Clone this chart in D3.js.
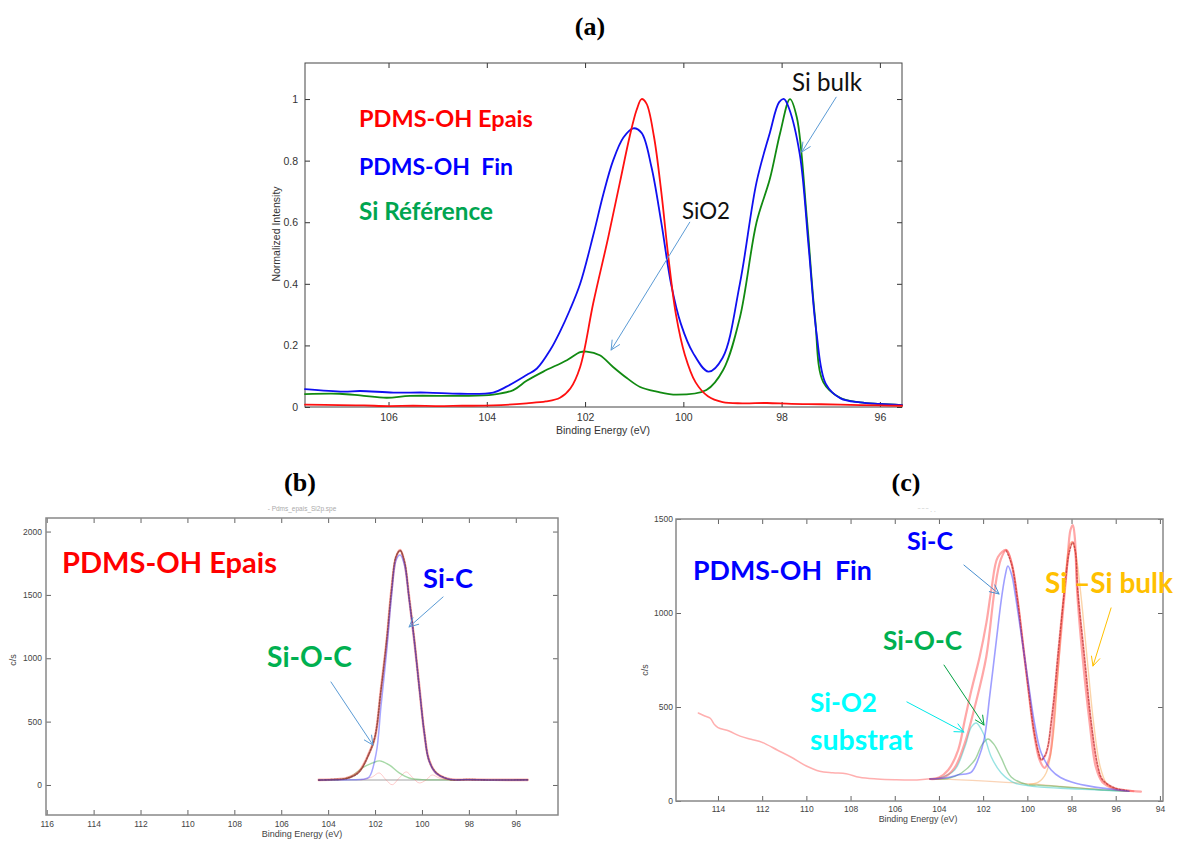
<!DOCTYPE html>
<html><head><meta charset="utf-8">
<script src="https://cdn.jsdelivr.net/npm/d3@7"></script>
<style>body{margin:0;background:#fff}svg{display:block}</style>
</head><body><svg id="chart" width="1180" height="842"></svg>
<script>
// ---------------- DATA (binding energy eV, value) ----------------
// Panel (a): normalized Si 2p spectra
const aEpais = [[107.7,0.008],[107,0.006],[106.5,0.005],[106,0.003],[105.5,0.004],[105,0.003],[104.5,0.004],[103.87,0.005],[103.19,0.012],[102.8,0.018],[102.51,0.03],[102.3,0.06],[102.1,0.13],[101.83,0.34],[101.53,0.55],[101.29,0.73],[101.09,0.88],[100.95,0.965],[100.85,1.0],[100.75,0.985],[100.6,0.88],[100.45,0.7],[100.3,0.48],[100.15,0.3],[99.97,0.17],[99.75,0.08],[99.5,0.035],[99.2,0.016],[98.8,0.012],[98.3,0.013],[97.8,0.01],[97.2,0.009],[96.6,0.007],[96.0,0.005],[95.55,0.004]];
const aFin = [[107.7,0.058],[106.92,0.05],[106.58,0.052],[105.9,0.047],[105.22,0.047],[104.54,0.043],[103.87,0.047],[103.6,0.066],[103.19,0.104],[102.98,0.125],[102.71,0.185],[102.51,0.245],[102.31,0.315],[102.1,0.40],[101.83,0.56],[101.63,0.69],[101.43,0.80],[101.22,0.875],[101.02,0.905],[100.85,0.89],[100.65,0.78],[100.45,0.6],[100.25,0.4],[100.05,0.27],[99.8,0.175],[99.49,0.115],[99.2,0.16],[98.85,0.40],[98.51,0.73],[98.24,0.89],[98.05,0.99],[97.95,1.0],[97.85,0.97],[97.63,0.82],[97.45,0.52],[97.29,0.24],[97.1,0.075],[96.8,0.028],[96.4,0.015],[96.0,0.01],[95.55,0.006]];
const aRef = [[107.7,0.042],[107.0,0.043],[106.58,0.038],[106.04,0.03],[105.56,0.036],[104.54,0.036],[103.87,0.04],[103.46,0.055],[103.19,0.085],[102.85,0.115],[102.37,0.152],[102.1,0.178],[101.97,0.18],[101.7,0.168],[101.43,0.13],[101.15,0.094],[100.88,0.065],[100.54,0.05],[100.14,0.04],[99.53,0.055],[99.19,0.12],[98.85,0.29],[98.51,0.60],[98.24,0.74],[98.03,0.89],[97.83,1.0],[97.69,0.94],[97.49,0.62],[97.32,0.29],[97.15,0.08],[96.81,0.03],[96.4,0.015],[96.0,0.01],[95.55,0.006]];
const aXTicks = [106,104,102,100,98,96];
const aYTicks = [0,0.2,0.4,0.6,0.8,1];

// Panel (b): PDMS-OH Epais fit (c/s)
const bEnvelope = [[104.4,40],[103.6,45],[103.2,55],[102.7,103],[102.25,253],[102.0,379],[101.75,750],[101.5,1144],[101.3,1539],[101.1,1800],[100.93,1855],[100.75,1760],[100.55,1484],[100.33,1144],[100.1,750],[99.9,410],[99.7,197],[99.4,95],[98.85,47],[98.0,42],[97.0,41],[95.5,40]];
const bData = [[104.4,38],[103.8,43],[103.2,52],[102.7,100],[102.25,250],[102.0,385],[101.75,745],[101.5,1150],[101.3,1535],[101.1,1805],[100.93,1850],[100.75,1765],[100.55,1480],[100.33,1150],[100.1,745],[99.9,415],[99.7,195],[99.4,98],[98.85,45],[98.0,43],[97.0,39],[95.5,41]];
const bSiC = [[104.4,40],[103.0,41],[102.5,45],[102.25,63],[101.95,253],[101.75,616],[101.5,1065],[101.3,1484],[101.1,1776],[100.93,1815],[100.75,1740],[100.55,1470],[100.33,1135],[100.1,745],[99.9,405],[99.7,193],[99.4,92],[98.85,46],[98.0,41],[95.5,40]];
const bSiOC = [[104.4,40],[103.5,42],[103.0,70],[102.55,134],[102.1,174],[101.8,190],[101.4,158],[100.97,95],[100.55,55],[100.0,42],[99.0,40],[95.5,40]];
const bResidual = [[102.6,40],[102.12,63],[101.83,95],[101.53,40],[101.27,2],[100.97,55],[100.67,103],[100.42,63],[100.12,16],[99.82,40],[99.57,79],[99.27,55],[98.9,40]];
const bBaseline = [[104.4,40],[95.5,40]];
const bXTicks = [116,114,112,110,108,106,104,102,100,98,96];
const bYTicks = [0,500,1000,1500,2000];

// Panel (c): PDMS-OH Fin fit (c/s)
const cWide = [[114.89,468],[114.6,452],[114.35,440],[114.15,405],[114.0,390],[113.5,372],[113.0,345],[112.5,328],[112.0,312],[111.3,270],[110.7,234],[110.0,186],[109.4,158],[108.8,150],[108.2,145],[107.6,126],[106.8,117],[106.0,113],[105.0,112],[104.4,118]];
const cEnvA = [[104.4,117],[104.0,125],[103.58,165],[103.13,271],[102.83,431],[102.53,590],[102.16,766],[101.85,950],[101.63,1122],[101.33,1298],[100.95,1335],[100.7,1260],[100.45,1080],[100.2,840],[99.95,600],[99.7,380],[99.5,260],[99.37,218],[99.2,240],[99.07,287],[98.92,415],[98.78,560],[98.62,766],[98.32,1122],[98.1,1330],[97.94,1378],[97.82,1320],[97.72,1122],[97.42,766],[97.11,415],[96.81,181],[96.6,112],[96.06,69],[95.5,56],[94.86,50]];
const cEnvB = [[104.4,117],[103.8,125],[103.3,175],[102.83,308],[102.38,500],[101.86,766],[101.48,1122],[101.2,1285],[100.95,1335],[100.7,1255],[100.45,1070],[100.2,830],[99.95,590],[99.7,360],[99.45,220],[99.22,176],[99.0,230],[98.84,378],[98.7,600],[98.47,900],[98.2,1250],[98.05,1440],[97.94,1468],[97.85,1400],[97.75,1122],[97.5,766],[97.18,415],[96.9,181],[96.6,100],[96.1,66],[95.5,55],[95.2,52]];
const cData = [[100.95,1330],[100.7,1255],[100.45,1075],[100.2,835],[99.95,595],[99.7,372],[99.5,262],[99.37,220],[99.2,242],[99.07,290],[98.92,418],[98.78,562],[98.62,770],[98.32,1118],[98.1,1325],[97.94,1375],[97.82,1322],[97.72,1125],[97.42,770],[97.11,418],[96.81,185],[96.6,114],[96.06,70],[95.5,56]];
const cSiC = [[104.4,117],[103.6,125],[103.1,140],[102.55,152],[102.2,230],[101.95,330],[101.7,560],[101.4,856],[101.18,1069],[101.0,1200],[100.88,1250],[100.7,1200],[100.55,1100],[100.28,890],[99.97,640],[99.67,410],[99.37,255],[98.92,165],[98.5,125],[98.0,101],[97.0,75],[96.0,60],[95.4,52]];
const cSiO2 = [[104.4,117],[104.0,122],[103.29,165],[102.83,287],[102.53,394],[102.31,415],[102.0,362],[101.63,234],[101.18,149],[100.58,96],[100.0,82],[99.52,75],[98.5,68],[97.5,62],[96.5,57],[95.4,52]];
const cSiOC = [[104.4,117],[103.6,120],[102.98,149],[102.38,218],[102.05,300],[101.78,330],[101.5,300],[101.18,229],[100.73,128],[99.97,86],[99.5,84],[98.5,76],[97.5,67],[96.5,58],[95.4,52]];
const cSiBulk = [[99.9,88],[99.5,100],[99.15,149],[98.85,325],[98.6,700],[98.35,1100],[98.1,1360],[98.0,1378],[97.85,1340],[97.6,1122],[97.3,766],[97.0,415],[96.7,181],[96.4,90],[96.0,62],[95.4,52]];
const cBackground = [[104.4,117],[103.5,115],[102.5,110],[101.5,103],[100.5,96],[99.5,88],[98.5,78],[97.5,68],[96.5,59],[95.4,52]];
const cXTicks = [114,112,110,108,106,104,102,100,98,96,94];
const cYTicks = [0,500,1000,1500];

// ---------------- CHART ----------------
const svg = d3.select("#chart");
svg.append("rect").attr("width",1180).attr("height",842).attr("fill","#fff");

const xA = d3.scaleLinear([107.7,95.55],[305,902]);
const yA = d3.scaleLinear([0,1.117],[407,63]);
const xB = d3.scaleLinear([116.03,94.2],[46,558]);
const yB = d3.scaleLinear([-237,2107],[815,518]);
const xC = d3.scaleLinear([115.9,93.86],[676,1163]);
const yC = d3.scaleLinear([0,1500],[801,519]);

function frame(x, y, xTicks, yTicks, o) {
  const g = svg.append("g");
  const [x0,x1] = x.range(), [yb,yt] = y.range();
  const style = sel => {
    sel.select(".domain").remove();
    sel.selectAll(".tick line").attr("stroke", o.tickColor).attr("stroke-width", 1);
    sel.selectAll(".tick text").attr("fill", o.textColor).attr("font-family","Liberation Sans, Arial, sans-serif").attr("font-size", o.fs);
  };
  g.append("g").attr("transform",`translate(0,${yb})`)
    .call(d3.axisBottom(x).tickValues(xTicks).tickSizeInner(-o.tick).tickSizeOuter(0).tickPadding(o.padX).tickFormat(d3.format("d"))).call(style);
  g.append("g").attr("transform",`translate(0,${yt})`)
    .call(d3.axisTop(x).tickValues(xTicks).tickSizeInner(-o.tick).tickSizeOuter(0).tickFormat("")).call(style);
  g.append("g").attr("transform",`translate(${x0},0)`)
    .call(d3.axisLeft(y).tickValues(yTicks).tickSizeInner(-o.tick).tickSizeOuter(0).tickPadding(o.padY).tickFormat(o.yFmt)).call(style);
  g.append("g").attr("transform",`translate(${x1},0)`)
    .call(d3.axisRight(y).tickValues(yTicks).tickSizeInner(-o.tick).tickSizeOuter(0).tickFormat("")).call(style);
  g.append("rect").attr("x",x0).attr("y",yt).attr("width",x1-x0).attr("height",yb-yt)
    .attr("fill","none").attr("stroke",o.frame).attr("stroke-width",o.frameW);
  g.append("text").attr("x",o.xt[0]).attr("y",o.xt[1]).attr("text-anchor","middle")
    .attr("font-family","Liberation Sans, Arial, sans-serif").attr("font-size",o.tfs).attr("fill",o.textColor).text("Binding Energy (eV)");
  g.append("text").attr("transform",`translate(${o.yt[0]},${o.yt[1]}) rotate(-90)`).attr("text-anchor","middle")
    .attr("font-family","Liberation Sans, Arial, sans-serif").attr("font-size",o.tfs).attr("fill",o.textColor).text(o.yLabel);
}

frame(xA, yA, aXTicks, aYTicks, {tick:5, padX:7, padY:7, fs:10.5, tfs:10.5, tickColor:"#333", textColor:"#333", frame:"#444", frameW:1,
  yFmt: d => String(+d.toFixed(1)), xt:[603,434], yt:[280,234], yLabel:"Normalized Intensity"});
frame(xB, yB, bXTicks, bYTicks, {tick:5, padX:6, padY:4, fs:8.5, tfs:9, tickColor:"#666", textColor:"#444", frame:"#888", frameW:1.5,
  yFmt: d3.format("d"), xt:[302,837], yt:[16,660], yLabel:"c/s"});
frame(xC, yC, cXTicks, cYTicks, {tick:5, padX:5, padY:3, fs:8.5, tfs:8.8, tickColor:"#666", textColor:"#444", frame:"#888", frameW:1.5,
  yFmt: d3.format("d"), xt:[918,822], yt:[648,670], yLabel:"c/s"});

function curve(data, x, y, color, w, opts={}) {
  const line = d3.line().x(d => x(d[0])).y(d => y(d[1])).curve(d3.curveCatmullRom.alpha(0.5));
  const p = svg.append("path").datum(data).attr("d", line).attr("fill","none")
    .attr("stroke", color).attr("stroke-width", w).attr("stroke-linejoin","round").attr("stroke-linecap","round");
  if (opts.opacity != null) p.attr("stroke-opacity", opts.opacity);
  if (opts.dash) p.attr("stroke-dasharray", opts.dash);
  return p;
}

// (a) curves
curve(aRef, xA, yA, "#118a11", 1.8);
curve(aFin, xA, yA, "#1010f0", 1.8);
curve(aEpais, xA, yA, "#ff1010", 1.8);

// (b) curves
curve(bBaseline, xB, yB, "#999", 1.5, {opacity:0.6});
curve(bResidual, xB, yB, "#ff7070", 1, {opacity:0.35});
curve(bSiOC, xB, yB, "#5cb85c", 1.4, {opacity:0.55});
curve(bData, xB, yB, "#222", 1.6, {dash:"1.5,1.5", opacity:0.8});
curve(bEnvelope, xB, yB, "#ff4a3a", 2.6, {opacity:0.45});
curve(bSiC, xB, yB, "#3a3aff", 1.5, {opacity:0.45});

// (c) curves
curve(cBackground, xC, yC, "#f3a060", 1.2, {opacity:0.45});
curve(cWide, xC, yC, "#ff6060", 1.5, {opacity:0.5});
curve(cSiBulk, xC, yC, "#f7a040", 1.4, {opacity:0.45});
curve(cSiOC, xC, yC, "#48a848", 1.4, {opacity:0.5});
curve(cSiO2, xC, yC, "#30c8c8", 1.4, {opacity:0.5});
curve(cEnvA, xC, yC, "#ff5050", 2.2, {opacity:0.5});
curve(cEnvB, xC, yC, "#ff5050", 2.2, {opacity:0.5});
curve(cData, xC, yC, "#b03030", 1.3, {dash:"1.5,2", opacity:0.7});
curve(cSiC, xC, yC, "#4040ff", 1.6, {opacity:0.5});

// ---------------- annotations ----------------
function arrow(x, y, from, to, color, w=1, head=10) {
  const x1 = x(from[0]), y1 = y(from[1]), x2 = x(to[0]), y2 = y(to[1]);
  const ang = Math.atan2(y2-y1, x2-x1), a = 0.45;
  const g = svg.append("g").attr("stroke", color).attr("stroke-width", w).attr("fill","none").attr("stroke-linecap","round");
  g.append("line").attr("x1",x1).attr("y1",y1).attr("x2",x2).attr("y2",y2);
  g.append("path").attr("d", `M${x2 - head*Math.cos(ang-a)},${y2 - head*Math.sin(ang-a)}L${x2},${y2}L${x2 - head*Math.cos(ang+a)},${y2 - head*Math.sin(ang+a)}`);
}
arrow(xA, yA, [99.87,0.60], [101.47,0.185], "#5b9bd5");
arrow(xA, yA, [96.89,1.006], [97.59,0.828], "#5b9bd5");
arrow(xB, yB, [99.10,1484], [100.55,1247], "#5b9bd5");
arrow(xB, yB, [103.88,813], [102.09,315], "#5b9bd5");
arrow(xC, yC, [102.87,1255], [101.28,1101], "#4a8fd0");
arrow(xC, yC, [96.21,1027], [97.03,718], "#ffc000");
arrow(xC, yC, [103.77,723], [101.96,404], "#00a040");
arrow(xC, yC, [105.45,527], [102.87,367], "#00e8e8");

const labels = [
  {t:"PDMS-OH Epais", x:359, y:127, w:174, c:"#ff0000", b:true},
  {t:"PDMS-OH  Fin", x:359, y:175, w:154, c:"#0000ff", b:true},
  {t:"Si Référence", x:359, y:220, w:134, c:"#00a550", b:true},
  {t:"Si bulk", x:792, y:91, w:70, c:"#111", b:false},
  {t:"SiO2", x:682, y:219, w:48, c:"#111", b:false},
  {t:"PDMS-OH Epais", x:62, y:573, w:215, c:"#ff0000", b:true},
  {t:"Si-C", x:423, y:588, w:50, c:"#0000ff", b:true},
  {t:"Si-O-C", x:267, y:667, w:85, c:"#00b050", b:true},
  {t:"PDMS-OH  Fin", x:693, y:580, w:179, c:"#0000ff", b:true},
  {t:"Si-C", x:907, y:550, w:46, c:"#0000ff", b:true},
  {t:"Si –Si bulk", x:1045, y:593, w:128, c:"#ffc000", b:true},
  {t:"Si-O-C", x:883, y:650, w:79, c:"#00b050", b:true},
  {t:"Si-O2", x:810, y:712, w:67, c:"#00ffff", b:true},
  {t:"substrat", x:810, y:750, w:103, c:"#00ffff", b:true}
];
labels.forEach(l => {
  const t = svg.append("text").attr("x", l.x).attr("y", l.y).attr("fill", l.c)
    .attr("font-family","Lato, 'Open Sans', sans-serif").attr("font-weight", l.b ? "bold" : "normal")
    .attr("font-size", 20).style("white-space","pre").text(l.t);
  const cur = t.node().getComputedTextLength();
  t.attr("font-size", 20 * l.w / cur);
});

[["(a)",590,35],["(b)",300,491],["(c)",906,491]].forEach(([s,x,y]) => {
  svg.append("text").attr("x",x).attr("y",y).attr("text-anchor","middle")
    .attr("font-family","Liberation Serif, 'Times New Roman', serif").attr("font-weight","bold").attr("font-size",26).attr("fill","#000").text(s);
});
svg.append("text").attr("x",302).attr("y",511).attr("text-anchor","middle").attr("font-family","Liberation Sans, Arial, sans-serif")
  .attr("font-size",6.5).attr("fill","#aaa").text("- Pdms_epais_Si2p.spe");
svg.append("text").attr("x",927).attr("y",514).attr("text-anchor","middle").attr("font-family","Liberation Sans, Arial, sans-serif")
  .attr("font-size",6.5).attr("fill","#bbb").text("‾ ‾ ‾  ·  ·");
</script></body></html>
